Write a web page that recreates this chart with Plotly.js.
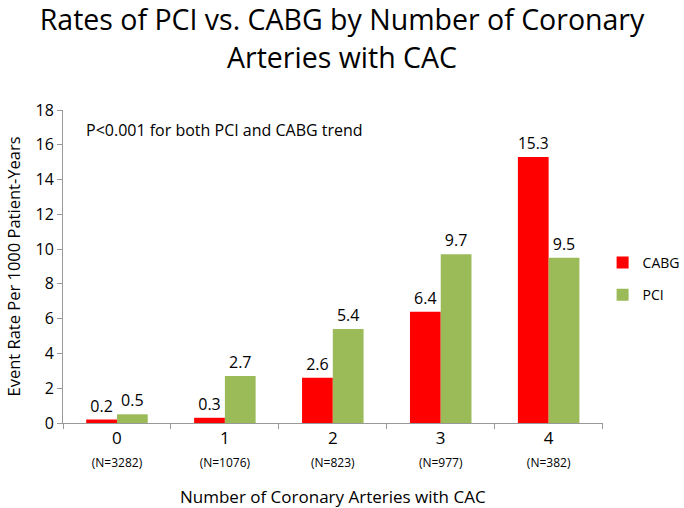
<!DOCTYPE html>
<html>
<head>
<meta charset="utf-8">
<script src="https://cdn.plot.ly/plotly-3.0.1.min.js"></script>
<style>html,body{margin:0;padding:0;background:#fff}#chart{width:684px;height:508px}</style>
</head>
<body>
<div id="chart"></div>
<script>
var categories = ["0", "1", "2", "3", "4"];
var sampleSizes = ["(N=3282)", "(N=1076)", "(N=823)", "(N=977)", "(N=382)"];
var cabgValues = [0.2, 0.3, 2.6, 6.4, 15.3];
var pciValues = [0.5, 2.7, 5.4, 9.7, 9.5];
var cabgLabels = ["0.2", "0.3", "2.6", "6.4", "15.3"];
var pciLabels = ["0.5", "2.7", "5.4", "9.7", "9.5"];
var yTicks = [0, 2, 4, 6, 8, 10, 12, 14, 16, 18];

var FONT = "Open Sans, sans-serif";
var tickText = categories.map(function (c, i) {
  return c + "<br><span style='font-size:12px'>" + sampleSizes[i] + "</span>";
});

var traces = [
  {
    type: "bar", name: "CABG", x: categories, y: cabgValues, legendgroup: "cabg",
    text: cabgLabels, textposition: "outside", cliponaxis: false,
    textfont: {family: FONT, size: 16, color: "#000"},
    marker: {color: "#FF0000"}
  },
  {
    type: "bar", name: "PCI", x: categories, y: pciValues, legendgroup: "pci",
    text: pciLabels, textposition: "outside", cliponaxis: false,
    textfont: {family: FONT, size: 16, color: "#000"},
    marker: {color: "#9BBB59"}
  }
];

var layout = {
  width: 684, height: 508,
  margin: {l: 63, r: 75, t: 110, b: 85},
  paper_bgcolor: "#fff", plot_bgcolor: "#fff",
  font: {family: FONT, color: "#000"},
  title: {
    text: "Rates of PCI vs. CABG by Number of Coronary<br>Arteries with CAC",
    font: {family: FONT, size: 28.5, color: "#000"},
    x: 0.5, xanchor: "center", yref: "container", y: 0.94, yanchor: "middle"
  },
  barmode: "group", bargap: 0.43, bargroupgap: 0,
  showlegend: true,
  legend: {xref: "container", x: 0.881, xanchor: "left", y: 0.46, yanchor: "middle",
           font: {family: FONT, size: 14, color: "#000"}, itemwidth: 30, tracegroupgap: 11},
  xaxis: {
    type: "category",
    tickmode: "array", tickvals: categories, ticktext: tickText,
    tickson: "boundaries", ticks: "outside", ticklen: 5, tickcolor: "#999",
    showline: true, linecolor: "#999", linewidth: 1,
    showgrid: false, zeroline: false,
    tickfont: {family: FONT, size: 17, color: "#000"},
    title: {text: "Number of Coronary Arteries with CAC", font: {family: FONT, size: 17, color: "#000"}, standoff: 22}
  },
  yaxis: {
    range: [0, 18], tickmode: "array", tickvals: yTicks,
    ticks: "outside", ticklen: 5, tickcolor: "#999",
    showline: true, linecolor: "#999", linewidth: 1,
    showgrid: false, zeroline: false,
    tickfont: {family: FONT, size: 16, color: "#000"},
    title: {text: "Event Rate Per 1000 Patient-Years", font: {family: FONT, size: 16.5, color: "#000"}, standoff: 10}
  },
  annotations: [
    {text: "P<0.001 for both PCI and CABG trend", xref: "paper", yref: "paper",
     x: 0.038, y: 0.935, xanchor: "left", yanchor: "middle", showarrow: false,
     font: {family: FONT, size: 16, color: "#000"}}
  ]
};

Plotly.newPlot("chart", traces, layout, {displayModeBar: false, staticPlot: true});
</script>
</body>
</html>
